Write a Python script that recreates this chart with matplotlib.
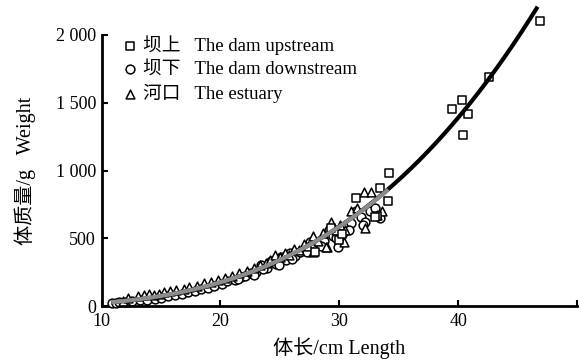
import numpy as np
import matplotlib
matplotlib.use("Agg")
import matplotlib.pyplot as plt

plt.rcParams['font.family'] = ['Liberation Serif', 'Noto Sans CJK SC']

# 坝上 The dam upstream
up_len = [46.9, 42.6, 40.3, 39.5, 40.8, 40.4, 34.2, 33.4, 34.1, 31.4, 33.2, 29.3, 30.0, 28.0, 33.0, 30.2]
up_wt = [2100, 1690, 1520, 1455, 1415, 1260, 982, 870, 775, 800, 665, 575, 490, 400, 660, 530]

# 坝下 The dam downstream
down_len = [10.9, 11.2, 11.5, 12.0, 12.6, 13.2, 13.8, 14.5, 15.0, 15.6, 16.2, 16.8, 17.3, 17.9,
            18.4, 19.0, 19.5, 20.1, 20.6, 21.2, 21.7, 22.1, 22.6, 23.0, 23.4, 23.9, 24.3, 24.7,
            25.1, 25.5, 25.9, 26.3, 26.7, 27.1, 27.5, 27.9, 28.3, 28.7, 29.1, 29.5, 29.9, 30.3,
            30.6, 31.0, 31.4, 31.8, 32.2, 32.6, 33.0, 33.4, 23.6, 24.9, 26.0, 27.3, 28.5, 29.7,
            30.8, 32.0, 21.5, 22.8]
down_wt = [22, 25, 28, 30, 35, 42, 48, 55, 62, 74, 80, 90, 100, 110,
           128, 135, 150, 160, 185, 195, 215, 225, 240, 250, 300, 280, 330, 310,
           360, 340, 390, 370, 400, 410, 470, 440, 460, 480, 560, 520, 435, 540,
           600, 610, 700, 660, 620, 700, 720, 650, 270, 300, 350, 400, 445, 500,
           560, 600, 200, 230]

# 河口 The estuary
est_len = [11.8, 12.2, 13.1, 13.6, 14.0, 14.4, 14.8, 15.3, 15.8, 16.3, 16.9, 17.4, 18.0, 18.6,
           19.2, 19.8, 20.4, 21.0, 21.6, 22.2, 22.8, 23.3, 23.8, 24.2, 24.6, 25.0, 25.4, 25.8,
           26.2, 26.6, 27.0, 27.4, 27.8, 28.2, 28.6, 29.0, 29.3, 29.7, 30.1, 30.5, 31.0, 31.5,
           32.1, 32.7, 32.2, 33.2, 33.6, 27.8, 28.9, 30.4]
est_wt = [40, 59, 74, 78, 85, 82, 90, 100, 110, 120, 128, 140, 150, 168,
          180, 190, 210, 225, 245, 260, 280, 300, 320, 340, 380, 360, 390, 380,
          420, 410, 460, 440, 520, 480, 540, 435, 620, 560, 600, 560, 700, 720,
          840, 840, 576, 672, 700, 395, 435, 470]

# fitted W = a * L^b curves
fit_all = (0.0217, 3.0, 11.0, 46.6)
fit_low = (0.0232, 2.98, 11.0, 34.0)

fig = plt.figure(figsize=(5.81, 3.63), dpi=100)
ax = fig.add_axes([0.1747, 0.157, 0.8183, 0.7466])

mk = dict(s=40, facecolors='white', edgecolors='black', linewidths=1.1, zorder=3, clip_on=False)
ax.scatter(down_len, down_wt, marker='o', label='坝下   The dam downstream', **mk)
ax.scatter(est_len, est_wt, marker='^', label='河口   The estuary', **mk)
ax.scatter(up_len, up_wt, marker='s', label='坝上   The dam upstream', **mk)

a, b, l0, l1 = fit_all
xs = np.linspace(l0, l1, 200)
ax.plot(xs, a * xs ** b, color='black', lw=3.0, zorder=4, clip_on=False)
a, b, l0, l1 = fit_low
xs = np.linspace(l0, l1, 200)
ax.plot(xs, a * xs ** b, color='#8c8c8c', lw=3.0, zorder=5)

ax.set_xlim(10, 50)
ax.set_ylim(0, 2000)
ax.set_xticks([10, 20, 30, 40, 50])
ax.set_xticklabels(['10', '20', '30', '40', ''])
ax.set_yticks([0, 500, 1000, 1500, 2000])
ax.set_yticklabels(['0', '500', '1 000', '1 500', '2 000'])
ax.tick_params(direction='in', length=4, width=1.5, labelsize=13)
ax.tick_params(axis='x', pad=5)
ax.tick_params(axis='y', pad=4)
for s in ['top', 'right']:
    ax.spines[s].set_visible(False)
for s in ['left', 'bottom']:
    ax.spines[s].set_linewidth(2.0)

ax.set_xlabel('体长/cm Length', fontsize=14.5, labelpad=5)
ax.set_ylabel('体质量/g   Weight', fontsize=14.5, labelpad=14)

h, l = ax.get_legend_handles_labels()
order = [2, 0, 1]
ax.legend([h[i] for i in order], [l[i] for i in order], loc='upper left',
          bbox_to_anchor=(0.02, 1.025), frameon=False, fontsize=13.5,
          handletextpad=0.1, labelspacing=0.3, handlelength=1.2, borderaxespad=0)

fig.savefig('out.png', dpi=100)
